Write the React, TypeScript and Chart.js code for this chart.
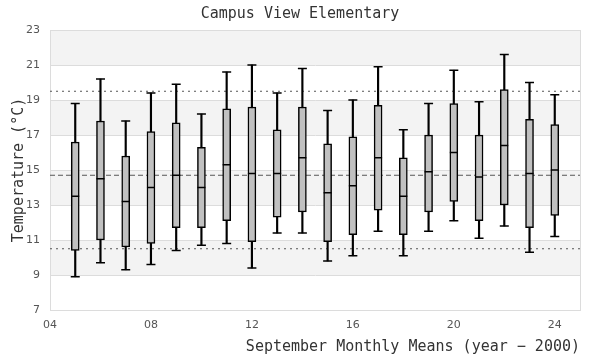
import React, { useEffect, useRef } from "react";
import { Chart, registerables } from "chart.js";

Chart.register(...registerables);

const years = [5, 6, 7, 8, 9, 10, 11, 12, 13, 14, 15, 16, 17, 18, 19, 20, 21, 22, 23, 24];
const mins = [8.9, 9.7, 9.3, 9.6, 10.4, 10.7, 10.8, 9.4, 11.4, 11.4, 9.8, 10.1, 11.5, 10.1, 11.5, 12.1, 11.1, 11.8, 10.3, 11.2];
const q1s = [10.4, 11.0, 10.6, 10.8, 11.7, 11.7, 12.1, 10.9, 12.3, 12.6, 10.9, 11.3, 12.7, 11.3, 12.6, 13.2, 12.1, 13.0, 11.7, 12.4];
const medians = [13.5, 14.5, 13.2, 14.0, 14.7, 14.0, 15.3, 14.8, 14.8, 15.7, 13.7, 14.1, 15.7, 13.5, 14.9, 16.0, 14.6, 16.4, 14.8, 15.0];
const q3s = [16.6, 17.8, 15.8, 17.2, 17.7, 16.3, 18.5, 18.6, 17.3, 18.6, 16.5, 16.9, 18.7, 15.7, 17.0, 18.8, 17.0, 19.6, 17.9, 17.6];
const maxs = [18.8, 20.2, 17.8, 19.4, 19.9, 18.2, 20.6, 21.0, 19.4, 20.8, 18.4, 19.0, 20.9, 17.3, 18.8, 20.7, 18.9, 21.6, 20.0, 19.3];

const upperRef = 19.5;
const meanRef = 14.7;
const lowerRef = 10.5;

const xRange = [4, 25];
const xTickValues = [4, 8, 12, 16, 20, 24];
const yTickValues = [7, 9, 11, 13, 15, 17, 19, 21, 23];

const titleText = "Campus View Elementary";
const xTitle = "September Monthly Means (year \u2212 2000)";
const yTitle = "Temperature (\u00B0C)";

const bandsPlugin = {
  id: "bands",
  beforeDraw(chart: any) {
    const { ctx, chartArea } = chart;
    const y = chart.scales.y;
    const ticks = y.ticks.map((t: any) => t.value);
    ctx.save();
    ctx.fillStyle = "#f3f3f3";
    for (let i = 0; i < ticks.length - 1; i++) {
      if (i % 2 === 1) {
        const top = y.getPixelForValue(ticks[i + 1]);
        const bottom = y.getPixelForValue(ticks[i]);
        ctx.fillRect(chartArea.left, top, chartArea.right - chartArea.left, bottom - top);
      }
    }
    ctx.restore();
  },
  beforeDatasetsDraw(chart: any) {
    const { ctx, chartArea } = chart;
    ctx.save();
    ctx.strokeStyle = "#dcdcdc";
    ctx.lineWidth = 1;
    ctx.strokeRect(
      Math.round(chartArea.left) + 0.5,
      Math.round(chartArea.top) + 0.5,
      Math.round(chartArea.right - chartArea.left),
      Math.round(chartArea.bottom - chartArea.top)
    );
    ctx.restore();
  },
};

const pad2 = (v: number) => String(v).padStart(2, "0");

export default function App() {
  const ref = useRef<HTMLCanvasElement | null>(null);

  useEffect(() => {
    document.body.style.margin = "0";
    const canvas = ref.current;
    if (!canvas) return;

    const refLine = (v: number, dash: number[]) => ({
      type: "line" as const,
      data: [
        { x: xRange[0], y: v },
        { x: xRange[1], y: v },
      ],
      borderColor: "#555555",
      borderWidth: 1,
      borderDash: dash,
      pointRadius: 0,
      fill: false,
      order: 10,
    });

    const chart = new Chart(canvas, {
      type: "bar",
      data: {
        datasets: [
          refLine(upperRef, [2, 4]),
          refLine(meanRef, [5, 3]),
          refLine(lowerRef, [2, 4]),
          {
            type: "bar",
            data: years.map((x, i) => ({ x, y: [mins[i], maxs[i]] })) as any,
            backgroundColor: "#000000",
            borderWidth: 0,
            barThickness: 1.5,
            grouped: false,
            order: 5,
          },
          {
            type: "bar",
            data: years.map((x, i) => ({ x, y: [q1s[i], q3s[i]] })) as any,
            backgroundColor: "#c0c0c0",
            borderColor: "#000000",
            borderWidth: 1.5,
            borderSkipped: false,
            barThickness: 8,
            grouped: false,
            order: 3,
          },
          {
            type: "scatter",
            data: years.map((x, i) => ({ x, y: mins[i] })),
            pointStyle: "line",
            pointRadius: 4.5,
            borderColor: "#000000",
            borderWidth: 1.5,
            order: 1,
          },
          {
            type: "scatter",
            data: years.map((x, i) => ({ x, y: maxs[i] })),
            pointStyle: "line",
            pointRadius: 4.5,
            borderColor: "#000000",
            borderWidth: 1.5,
            order: 1,
          },
          {
            type: "scatter",
            data: years.map((x, i) => ({ x, y: medians[i] })),
            pointStyle: "line",
            pointRadius: 4,
            borderColor: "#000000",
            borderWidth: 1.5,
            order: 0,
          },
        ] as any,
      },
      options: {
        animation: false,
        responsive: false,
        devicePixelRatio: 1,
        layout: { padding: 0 },
        plugins: {
          legend: { display: false },
          tooltip: { enabled: false },
          title: {
            display: true,
            text: titleText,
            color: "#333333",
            font: { family: "'DejaVu Sans Mono', monospace", size: 15, weight: "normal" },
            padding: { top: 5, bottom: 7 },
          },
        },
        scales: {
          x: {
            type: "linear",
            min: xRange[0],
            max: xRange[1],
            offset: false,
            grid: { display: false, drawTicks: false },
            border: { display: false },
            afterBuildTicks: (axis: any) => {
              axis.ticks = xTickValues.map((v) => ({ value: v }));
            },
            afterFit: (axis: any) => {
              axis.height = 50;
            },
            ticks: {
              color: "#555555",
              font: { family: "'DejaVu Sans', sans-serif", size: 11 },
              padding: 9,
              maxRotation: 0,
              callback: (v: any) => pad2(Number(v)),
            },
            title: {
              display: true,
              text: xTitle,
              align: "end",
              color: "#333333",
              font: { family: "'DejaVu Sans Mono', monospace", size: 15, weight: "normal" },
              padding: { top: 4, bottom: 4 },
            },
          },
          y: {
            type: "linear",
            min: 7,
            max: 23,
            beginAtZero: false,
            afterBuildTicks: (axis: any) => {
              axis.ticks = yTickValues.map((v) => ({ value: v }));
            },
            afterFit: (axis: any) => {
              axis.width = 50;
            },
            grid: { color: "#dcdcdc", lineWidth: 1, drawTicks: false },
            border: { display: true, color: "#dcdcdc" },
            ticks: {
              color: "#555555",
              font: { family: "'DejaVu Sans', sans-serif", size: 11 },
              padding: 10,
            },
            title: {
              display: true,
              text: yTitle,
              color: "#333333",
              font: { family: "'DejaVu Sans Mono', monospace", size: 15, weight: "normal" },
              padding: { top: 10, bottom: 4 },
            },
          },
          yRight: {
            type: "linear",
            position: "right",
            display: true,
            min: 7,
            max: 23,
            grid: { display: false, drawTicks: false },
            border: { display: false },
            ticks: { display: false },
            afterFit: (axis: any) => {
              axis.width = 20;
            },
          },
        },
      } as any,
      plugins: [bandsPlugin],
    });

    return () => chart.destroy();
  }, []);

  return (
    <div style={{ width: 600, height: 360 }}>
      <canvas ref={ref} width={600} height={360} style={{ display: "block" }} />
    </div>
  );
}
